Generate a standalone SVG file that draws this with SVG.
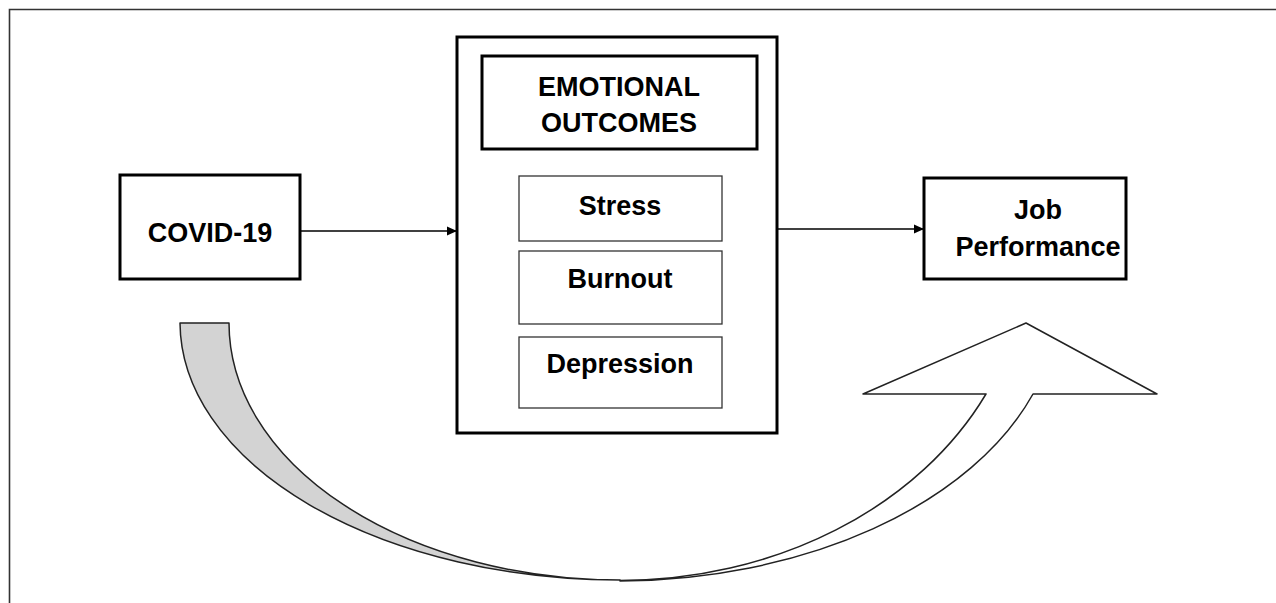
<svg xmlns="http://www.w3.org/2000/svg" width="1276" height="603" viewBox="0 0 1276 603">
<defs>
<style>
.lbl{font-family:"Liberation Sans",Arial,sans-serif;font-weight:bold;font-size:27px;fill:#000;text-anchor:middle}
.box{fill:#fff;stroke:#000;stroke-width:3}
.sub{fill:#fff;stroke:#333;stroke-width:1.3}
.conn{stroke:#000;stroke-width:1.3;fill:none}
</style>
<marker id="ah" markerWidth="10" markerHeight="10" refX="10" refY="5" orient="auto" markerUnits="userSpaceOnUse">
<path d="M0,0.5 L10,5 L0,9.5 Z" fill="#000"/>
</marker>
</defs>
<rect width="1276" height="603" fill="#fff"/>
<path d="M9.5,603 L9.5,9.5 L1276,9.5" fill="none" stroke="#333" stroke-width="1.6"/>

<g id="curved-arrow">
<path d="M180,323 L229,323 A391,257 0 0 0 620,580 A440,258 0 0 1 180,323 Z" fill="#d3d3d3" stroke="#222" stroke-width="1.5" stroke-linejoin="round"/>
<path d="M620,580.5 A407,330.5 0 0 0 986,394 L863,394 L1026,323 L1157,394 L1033,394 A442,281 0 0 1 620,581 Z" fill="#fff" stroke="#222" stroke-width="1.5" stroke-linejoin="round"/>
</g>

<g id="covid">
<rect class="box" x="120" y="175" width="180" height="104"/>
<text class="lbl" x="210" y="242">COVID-19</text>
</g>

<g id="emotional-outcomes">
<rect class="box" x="457" y="37" width="320" height="396"/>
<rect class="box" x="482" y="56" width="275" height="93"/>
<text class="lbl" x="619" y="96">EMOTIONAL</text>
<text class="lbl" x="619" y="132">OUTCOMES</text>
</g>

<g id="stress">
<rect class="sub" x="519" y="176" width="203" height="65"/>
<text class="lbl" x="620" y="215">Stress</text>
</g>
<g id="burnout">
<rect class="sub" x="519" y="251" width="203" height="73"/>
<text class="lbl" x="620" y="288">Burnout</text>
</g>
<g id="depression">
<rect class="sub" x="519" y="337" width="203" height="71"/>
<text class="lbl" x="620" y="373">Depression</text>
</g>

<g id="job-performance">
<rect class="box" x="924" y="178" width="202" height="101"/>
<text class="lbl" x="1038" y="219">Job</text>
<text class="lbl" x="1038" y="256">Performance</text>
</g>

<g id="connectors">
<line class="conn" x1="301" y1="231" x2="457" y2="231" marker-end="url(#ah)"/>
<line class="conn" x1="778" y1="229" x2="924" y2="229" marker-end="url(#ah)"/>
</g>
</svg>
